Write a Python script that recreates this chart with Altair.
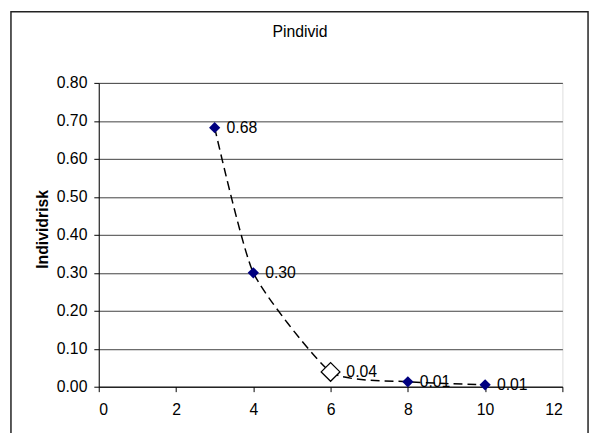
import altair as alt
import pandas as pd

# data
xs = [3, 4, 6, 8, 10]
ys = [0.682, 0.300, 0.039, 0.013, 0.005]
labels = ["0.68", "0.30", "0.04", "0.01", "0.01"]
highlight = [False, False, True, False, False]

y_ticks = [0.0, 0.1, 0.2, 0.3, 0.4, 0.5, 0.6, 0.7, 0.8]
x_ticks = [0, 2, 4, 6, 8, 10, 12]
title_text = ["Pindivid"]

df = pd.DataFrame({"x": xs, "y": ys, "label": labels, "hl": highlight})

FONT = "Liberation Sans"
FS = 16

xscale = alt.Scale(domain=[0, 12], nice=False, zero=False)
yscale = alt.Scale(domain=[0, 0.8], nice=False)

xaxis = alt.Axis(
    values=x_ticks, grid=False, title=None, tickSize=5, labelPadding=10,
    domainColor="black", tickColor="black", labelColor="black", labelOverlap=False,
    labelFont=FONT, labelFontSize=FS, format="d")
yaxis = alt.Axis(
    values=y_ticks, tickCount=9, grid=True, gridColor="#404040", gridWidth=1,
    labelOverlap=False,
    title="Individrisk", titleFont=FONT, titleFontSize=FS, titleFontWeight="bold",
    titleColor="black", titleX=-57, titleY=148, titleAngle=270, titleBaseline="middle",
    tickSize=5, labelPadding=7, domainColor="black", tickColor="black",
    labelColor="black", labelFont=FONT, labelFontSize=FS, format=".2f")

xenc = alt.X("x:Q", scale=xscale, axis=xaxis)
yenc = alt.Y("y:Q", scale=yscale, axis=yaxis)

base = alt.Chart(df)

frame = alt.Chart(alt.Data(values=[{"a": 1}])).mark_rect(
    fill="white", fillOpacity=0, stroke="#222", strokeWidth=1.5
).encode(
    x=alt.value(-89), x2=alt.value(496), y=alt.value(-72), y2=alt.value(420)
)

title = alt.Chart(alt.Data(values=[{"t": title_text[0]}])).mark_text(
    align="center", baseline="middle", font=FONT, fontSize=FS, color="black"
).encode(x=alt.value(204), y=alt.value(-52), text="t:N")

line = base.mark_line(
    interpolate="cardinal", tension=0.45, color="black", strokeWidth=1.5,
    strokeDash=[9, 5]
).encode(x=xenc, y=yenc)

pts = base.transform_filter("!datum.hl").mark_point(
    shape="diamond", filled=True, color="#000080", size=130, opacity=1
).encode(x=xenc, y=yenc)

hl_pt = base.transform_filter("datum.hl").mark_point(
    shape="diamond", filled=True, fill="white", stroke="black", strokeWidth=1.3,
    size=360, opacity=1
).encode(x=xenc, y=yenc)

txt = base.transform_filter("!datum.hl").mark_text(
    align="left", baseline="middle", dx=12, font=FONT, fontSize=FS, color="black"
).encode(x=xenc, y=yenc, text="label:N")

txt_hl = base.transform_filter("datum.hl").mark_text(
    align="left", baseline="middle", dx=16, font=FONT, fontSize=FS, color="black"
).encode(x=xenc, y=yenc, text="label:N")

chart = alt.layer(frame, title, line, pts, hl_pt, txt, txt_hl).properties(
    width=470, height=308,
    autosize=alt.AutoSizeParams(type="none"),
    padding={"left": 92, "top": 73, "right": 29, "bottom": 44},
).configure_view(stroke="#909090", strokeWidth=1.5).configure(background="white")

chart.save("out.html", embed_options={"renderer": "svg", "actions": False})
